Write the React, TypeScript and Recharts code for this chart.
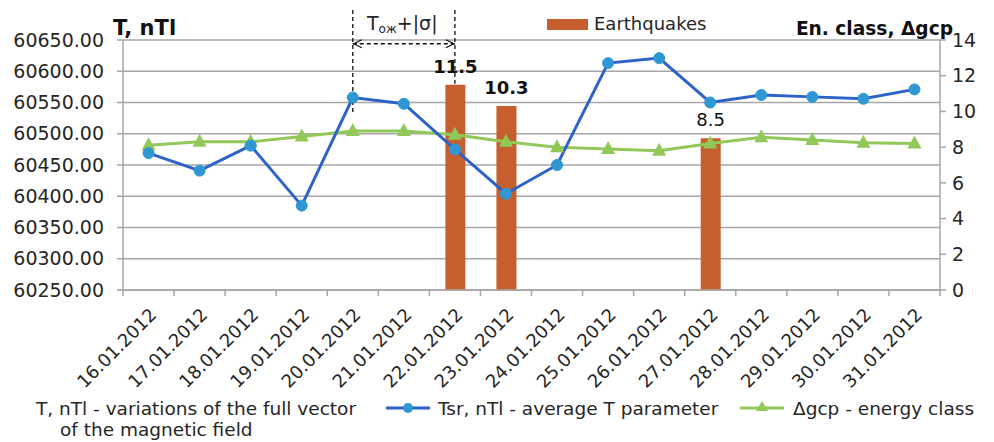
import React from 'react';
import { ComposedChart, Bar, Line, XAxis, YAxis, CartesianGrid, ReferenceLine, LabelList } from 'recharts';

const dates = [
  '16.01.2012', '17.01.2012', '18.01.2012', '19.01.2012', '20.01.2012', '21.01.2012', '22.01.2012', '23.01.2012',
  '24.01.2012', '25.01.2012', '26.01.2012', '27.01.2012', '28.01.2012', '29.01.2012', '30.01.2012', '31.01.2012',
];
// Tsr, nTl - average T parameter (left axis)
const tsr = [60469, 60441, 60481, 60385, 60558, 60548, 60475, 60404, 60450, 60613, 60621, 60550, 60562, 60559, 60556, 60571];
// Δgcp - energy class (right axis)
const energyClass = [8.1, 8.3, 8.3, 8.6, 8.9, 8.9, 8.7, 8.3, 8.0, 7.9, 7.8, 8.2, 8.55, 8.4, 8.25, 8.2];
// Earthquakes (right axis)
const quakes: (number | null)[] = [null, null, null, null, null, null, 11.5, 10.3, null, null, null, 8.5, null, null, null, null];

const leftTicks = [60250, 60300, 60350, 60400, 60450, 60500, 60550, 60600, 60650];
const rightTicks = [0, 2, 4, 6, 8, 10, 12, 14];

const data = dates.map((d, i) => ({ date: d, tsr: tsr[i], energy: energyClass[i], quake: quakes[i] }));

const FONT = '"DejaVu Sans", sans-serif';
const TEXT = '#262626';
const GRID = '#a6a6a6';
const ORANGE = '#c65f2d';
const BLUE = '#2d63c8';
const BLUE_DOT = '#2e97d4';
const GREEN = '#92c857';

const DateTick = (props: any) => {
  const { x, y, payload, index } = props;
  const half = payload && payload.offset ? payload.offset : 25.5;
  return (
    <g>
      <line x1={x - half} y1={y} x2={x - half} y2={y + 6} stroke={GRID} strokeWidth={1.5} />
      {index === dates.length - 1 && <line x1={x + half} y1={y} x2={x + half} y2={y + 6} stroke={GRID} strokeWidth={1.5} />}
      <text
        transform={`translate(${x + 9},${y + 26}) rotate(-45)`}
        textAnchor="end"
        fontSize={18}
        fontFamily={FONT}
        fill={TEXT}
      >
        {payload.value}
      </text>
    </g>
  );
};

const Triangle = (props: any) => {
  const { cx, cy } = props;
  if (cx == null || cy == null) return null;
  return <path d={`M${cx},${cy - 8} L${cx + 7},${cy + 5} L${cx - 7},${cy + 5} Z`} fill={GREEN} />;
};

const QuakeLabel = (props: any) => {
  const { x, y, width, value } = props;
  if (value == null) return null;
  return (
    <text
      x={x + width / 2}
      y={y - 12}
      textAnchor="middle"
      fontSize={18}
      fontWeight={value >= 10 ? 'bold' : 'normal'}
      fontFamily={FONT}
      fill="#111"
    >
      {value}
    </text>
  );
};

const DoubleArrow = (props: any) => {
  const { x1, y1, x2, y2 } = props;
  return (
    <g>
      <line x1={x1} y1={y1} x2={x2} y2={y2} stroke="#111" strokeWidth={1.3} strokeDasharray="4 3" />
      <path d={`M${x1 + 9},${y1 - 4} L${x1 + 1},${y1} L${x1 + 9},${y1 + 4}`} fill="none" stroke="#111" strokeWidth={1.2} />
      <path d={`M${x2 - 9},${y2 - 4} L${x2 - 1},${y2} L${x2 - 9},${y2 + 4}`} fill="none" stroke="#111" strokeWidth={1.2} />
    </g>
  );
};

export default function App() {
  return (
    <div style={{ position: 'absolute', left: 0, top: 0, width: 994, height: 442, background: '#fff' }}>
      <ComposedChart width={994} height={442} data={data} margin={{ top: 40, right: 0, bottom: 0, left: 0 }}>
        <CartesianGrid yAxisId="left" vertical={false} stroke={GRID} strokeWidth={1.5} />
        <XAxis
          dataKey="date"
          height={152}
          tickSize={0}
          tickMargin={0}
          tickLine={false}
          axisLine={{ stroke: GRID, strokeWidth: 1.5 }}
          interval={0}
          tick={<DateTick />}
        />
        <YAxis
          yAxisId="left"
          width={123}
          domain={[60250, 60650]}
          ticks={leftTicks}
          interval={0}
          tickFormatter={(v: number) => v.toFixed(2)}
          tickSize={6}
          tickMargin={13}
          tickLine={{ stroke: GRID, strokeWidth: 1.5 }}
          axisLine={{ stroke: GRID, strokeWidth: 1.5 }}
          tick={{ fontSize: 19, fill: TEXT, fontFamily: FONT }}
        />
        <YAxis
          yAxisId="right"
          orientation="right"
          width={54}
          domain={[0, 14]}
          ticks={rightTicks}
          interval={0}
          tickSize={6}
          tickMargin={6}
          tickLine={{ stroke: GRID, strokeWidth: 1.5 }}
          axisLine={{ stroke: GRID, strokeWidth: 1.5 }}
          tick={{ fontSize: 19, fill: TEXT, fontFamily: FONT }}
        />
        <Bar yAxisId="right" dataKey="quake" barSize={20} fill={ORANGE} isAnimationActive={false}>
          <LabelList dataKey="quake" content={<QuakeLabel />} />
        </Bar>
        <Line
          yAxisId="right"
          dataKey="energy"
          stroke={GREEN}
          strokeWidth={3}
          dot={<Triangle />}
          activeDot={false}
          isAnimationActive={false}
        />
        <Line
          yAxisId="left"
          dataKey="tsr"
          stroke={BLUE}
          strokeWidth={3}
          dot={{ r: 5.5, fill: BLUE_DOT, stroke: BLUE_DOT, strokeWidth: 1 }}
          activeDot={false}
          isAnimationActive={false}
        />
        <ReferenceLine
          yAxisId="left"
          ifOverflow="visible"
          segment={[{ x: '20.01.2012', y: 60698 }, { x: '20.01.2012', y: 60533 }]}
          stroke="#111"
          strokeWidth={1.3}
          strokeDasharray="4 3"
        />
        <ReferenceLine
          yAxisId="left"
          ifOverflow="visible"
          segment={[{ x: '22.01.2012', y: 60698 }, { x: '22.01.2012', y: 60580 }]}
          stroke="#111"
          strokeWidth={1.3}
          strokeDasharray="4 3"
        />
        <ReferenceLine
          yAxisId="left"
          ifOverflow="visible"
          segment={[{ x: '20.01.2012', y: 60644 }, { x: '22.01.2012', y: 60644 }]}
          shape={<DoubleArrow />}
        />
      </ComposedChart>
      <svg width={994} height={442} style={{ position: 'absolute', left: 0, top: 0, pointerEvents: 'none' }} fontFamily={FONT}>
        <text x={113} y={35} fontSize={21} fontWeight="bold" fill="#111">T, nTl</text>
        <text x={953} y={35} fontSize={18.6} fontWeight="bold" fill="#111" textAnchor="end">En. class, Δgcp</text>
        <text x={367} y={30} fontSize={19} fill={TEXT}>
          T<tspan fontSize={12} dy={3}>ож</tspan><tspan dy={-3}>+|σ|</tspan>
        </text>
        <rect x={547} y={19} width={41} height={11} fill={ORANGE} />
        <text x={594} y={30} fontSize={18} fill={TEXT}>Earthquakes</text>
        <text x={36} y={415} fontSize={18.5} fill={TEXT}>T, nTl - variations of the full vector</text>
        <text x={60} y={436} fontSize={18.5} fill={TEXT}>of the magnetic field</text>
        <line x1={386} y1={408} x2={430} y2={408} stroke={BLUE} strokeWidth={3} />
        <circle cx={408} cy={408} r={5} fill={BLUE_DOT} />
        <text x={438} y={415} fontSize={18.5} fill={TEXT}>Tsr, nTl - average T parameter</text>
        <line x1={740} y1={408} x2={784} y2={408} stroke={GREEN} strokeWidth={3} />
        <path d="M762,401 L768,411 L756,411 Z" fill={GREEN} />
        <text x={793} y={415} fontSize={18.5} fill={TEXT}>Δgcp - energy class</text>
      </svg>
    </div>
  );
}
